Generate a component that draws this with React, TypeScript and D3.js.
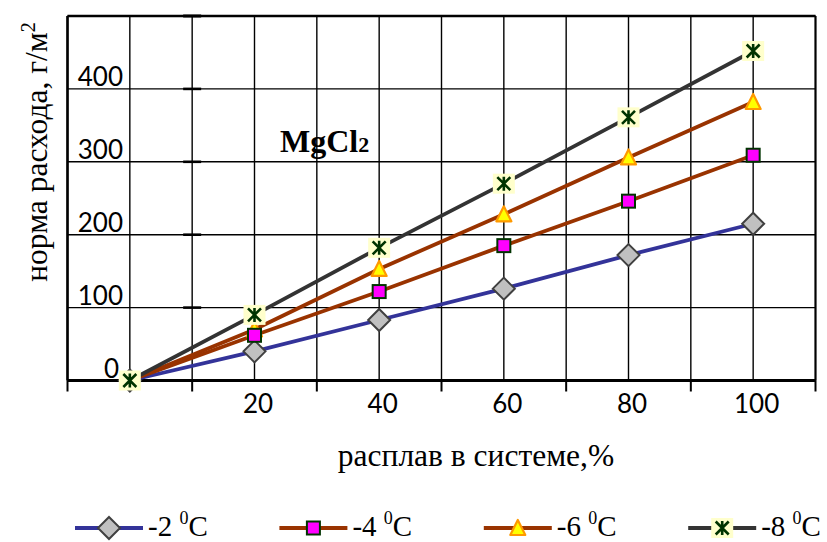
import React from "react";
import * as d3 from "d3";

// ---------- data ----------
const categories = ["0", "20", "40", "60", "80", "100"];
const xTickLabels = ["", "20", "40", "60", "80", "100"];
const yTickValues = [0, 100, 200, 300, 400];
const seriesLabels = ["-2", "-4", "-6", "-8"];
const minus2 = [0, 40, 83, 126, 172, 215];
const minus4 = [0, 62, 122, 185, 246, 309];
const minus6 = [0, 70, 153, 228, 306, 382];
const minus8 = [0, 90, 182, 270, 361, 452];
const chartTitle = "MgCl";
const chartTitleSub = "2";
const xTitle = "расплав в системе,%";
const yTitle = "норма расхода, г/м";
const yTitleSup = "2";

// ---------- layout / style ----------
const W = 827;
const H = 542;
const PL = 67.5, PR = 815.5, PT = 16, PB = 380.5;
const serif = "'Liberation Serif', 'Times New Roman', serif";
const sans = "Lato, 'Open Sans', sans-serif";

type MarkerKind = "diamond" | "square" | "triangle" | "star";
const seriesStyles: { color: string; marker: MarkerKind }[] = [
  { color: "#333399", marker: "diamond" },
  { color: "#993300", marker: "square" },
  { color: "#993300", marker: "triangle" },
  { color: "#333333", marker: "star" },
];
const seriesValues = [minus2, minus4, minus6, minus8];

function Marker({ kind, x, y }: { kind: MarkerKind; x: number; y: number }) {
  if (kind === "diamond") {
    const r = 11;
    return (
      <path
        d={`M${x},${y - r}L${x + r},${y}L${x},${y + r}L${x - r},${y}Z`}
        fill="#C0C0C0"
        stroke="#404040"
        strokeWidth={2}
      />
    );
  }
  if (kind === "square") {
    const s = 13;
    return (
      <rect x={x - s / 2} y={y - s / 2} width={s} height={s} fill="#FF00FF" stroke="#003300" strokeWidth={2} />
    );
  }
  if (kind === "triangle") {
    const h = 14, w = 15;
    return (
      <path
        d={`M${x},${y - h / 2 - 1}L${x + w / 2},${y + h / 2}L${x - w / 2},${y + h / 2}Z`}
        fill="#FFFF00"
        stroke="#FF9900"
        strokeWidth={2.2}
        strokeLinejoin="round"
      />
    );
  }
  const bw = 22, bh = 20, a = 6.5;
  return (
    <g>
      <rect x={x - bw / 2} y={y - bh / 2} width={bw} height={bh} fill="#FFFFCC" />
      <path
        d={`M${x - a},${y - a}L${x + a},${y + a}M${x + a},${y - a}L${x - a},${y + a}M${x},${y - a - 0.5}L${x},${y + a + 0.5}`}
        stroke="#003300"
        strokeWidth={2.6}
        fill="none"
      />
    </g>
  );
}

export default function App() {
  const x = d3.scaleBand<string>().domain(categories).range([PL, PR]).padding(0);
  const y = d3.scaleLinear().domain([0, 500]).range([PB, PT]);
  const bw = x.bandwidth();
  const cx = (c: string) => (x(c) as number) + bw / 2;

  const vGrid: number[] = [];
  categories.forEach((c) => {
    vGrid.push(x(c) as number);
    vGrid.push(cx(c));
  });
  vGrid.push(PR);
  const boundaries: number[] = categories.map((c) => x(c) as number).concat([PR]);
  const hGrid = d3.range(0, 501, 100);

  const line = d3
    .line<number>()
    .x((_, i) => cx(categories[i]))
    .y((d) => y(d));

  const lineOrder = [0, 1, 2, 3];
  const markerOrder = [0, 2, 1, 3];
  const yAxisX = boundaries[1];

  const legendX0 = 75;
  const legendStep = 204.4;
  const legendY = 528;

  return (
    <svg
      width={W}
      height={H}
      style={{ position: "absolute", left: 0, top: 0, background: "#fff" }}
    >
      <rect x={0} y={0} width={W} height={H} fill="#fff" />
      {/* gridlines */}
      {hGrid.map((v) => (
        <line key={"h" + v} x1={PL} x2={PR} y1={y(v)} y2={y(v)} stroke="#000" strokeWidth={1.4} />
      ))}
      {vGrid.map((gx, i) => (
        <line key={"v" + i} x1={gx} x2={gx} y1={PT} y2={PB} stroke="#000" strokeWidth={1.4} />
      ))}
      {/* plot border */}
      <line x1={PL} x2={PR} y1={PT} y2={PT} stroke="#000" strokeWidth={2.6} />
      <line x1={PL} x2={PL} y1={PT} y2={PB} stroke="#000" strokeWidth={2.6} />
      <line x1={PR} x2={PR} y1={PT} y2={PB} stroke="#000" strokeWidth={2} />
      {/* x axis */}
      <line x1={PL} x2={PR} y1={PB} y2={PB} stroke="#000" strokeWidth={2.8} />
      {boundaries.map((bx, i) => (
        <line key={"t" + i} x1={bx} x2={bx} y1={PB} y2={PB + 11} stroke="#000" strokeWidth={2} />
      ))}
      {/* y axis cross ticks */}
      {yTickValues.slice(1).map((v) => (
        <line key={"yt" + v} x1={yAxisX - 9} x2={yAxisX + 9} y1={y(v)} y2={y(v)} stroke="#000" strokeWidth={2.6} />
      ))}
      <line x1={yAxisX - 9} x2={yAxisX + 9} y1={y(500)} y2={y(500)} stroke="#000" strokeWidth={3} />

      {/* y tick labels */}
      {yTickValues.map((v) => (
        <text key={"yl" + v} x={v === 0 ? 119 : 123} y={y(v) - 2.5} textAnchor="end" fontFamily={sans} fontSize={26} fill="#000">
          {v}
        </text>
      ))}
      {/* x tick labels */}
      {categories.map((c, i) => (
        <text key={"xl" + c} x={cx(c) + 3.5} y={413} textAnchor="middle" fontFamily={sans} fontSize={26} fill="#000">
          {xTickLabels[i]}
        </text>
      ))}

      {/* lines */}
      {lineOrder.map((si) => (
        <path
          key={"l" + si}
          d={line(seriesValues[si]) as string}
          fill="none"
          stroke={seriesStyles[si].color}
          strokeWidth={3.8}
        />
      ))}
      {/* markers */}
      {markerOrder.map((si) =>
        seriesValues[si].map((v, i) => (
          <Marker key={"m" + si + "-" + i} kind={seriesStyles[si].marker} x={cx(categories[i])} y={y(v)} />
        ))
      )}

      {/* chart title */}
      <text x={280} y={152} fontFamily={serif} fontWeight="bold" fontSize={32} fill="#000">
        {chartTitle}
        <tspan fontSize={22}>{chartTitleSub}</tspan>
      </text>

      {/* axis titles */}
      <text x={476} y={466} textAnchor="middle" fontFamily={serif} fontSize={31.5} fill="#000">
        {xTitle}
      </text>
      <text
        transform={`translate(47,152) rotate(-90)`}
        textAnchor="middle"
        fontFamily={serif}
        fontSize={31.5}
        fill="#000"
      >
        {yTitle}
        <tspan fontSize={20} dy={-12}>{yTitleSup}</tspan>
      </text>

      {/* legend */}
      {seriesLabels.map((lab, i) => {
        const lx = legendX0 + i * legendStep;
        const mx = lx + 34;
        return (
          <g key={"lg" + i}>
            <line x1={lx} x2={lx + 68} y1={legendY} y2={legendY} stroke={seriesStyles[i].color} strokeWidth={4.2} />
            <Marker kind={seriesStyles[i].marker} x={mx} y={legendY} />
            <text x={lx + 73} y={536} fontFamily={serif} fontSize={29} fill="#000">
              {lab + " "}
              <tspan fontSize={18} dy={-12}>0</tspan>
              <tspan dy={12}>C</tspan>
            </text>
          </g>
        );
      })}
    </svg>
  );
}
